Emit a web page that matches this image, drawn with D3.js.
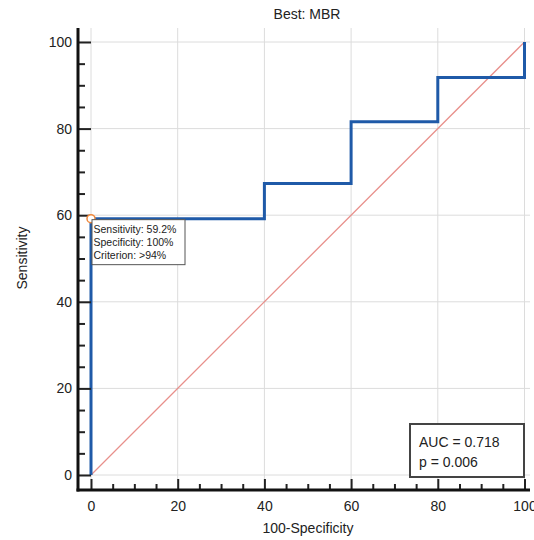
<!DOCTYPE html>
<meta charset="utf-8">
<script src="https://d3js.org/d3.v7.min.js"></script>
<style>
  body { margin: 0; background: #fff; }
  text { font-family: "Liberation Sans", Arial, sans-serif; }
</style>
<div id="chart"></div>
<script>
// ROC curve points (100-Specificity, Sensitivity)
const fpr = [0, 0, 40, 40, 60, 60, 80, 80, 100, 100];
const tpr = [0, 59.2, 59.2, 67.3, 67.3, 81.6, 81.6, 91.8, 91.8, 100];
const majorTicks = [0, 20, 40, 60, 80, 100];
const minorTicks = d3.range(0, 101, 5).filter(v => v % 20 !== 0);
const bestPoint = {x: 0, y: 59.2};
const tipLines = ["Sensitivity: 59.2%", "Specificity: 100%", "Criterion: >94%"];
const statLines = ["AUC = 0.718", "p = 0.006"];

const W = 534, H = 540;
const svg = d3.select("#chart").append("svg")
    .attr("width", W).attr("height", H);

const x = d3.scaleLinear().domain([0, 100]).range([91, 524.5]);
const y = d3.scaleLinear().domain([0, 100]).range([475, 42]);

const axisX = 78, axisY = 490;

// grid
svg.append("g").selectAll("line.v").data(majorTicks).join("line")
    .attr("x1", d => x(d)).attr("x2", d => x(d))
    .attr("y1", 28).attr("y2", axisY)
    .attr("stroke", "#dcdcdc").attr("stroke-width", 1);
svg.append("g").selectAll("line.h").data(majorTicks).join("line")
    .attr("x1", axisX).attr("x2", 530)
    .attr("y1", d => y(d)).attr("y2", d => y(d))
    .attr("stroke", "#dcdcdc").attr("stroke-width", 1);

// diagonal reference
svg.append("line")
    .attr("x1", x(0)).attr("y1", y(0)).attr("x2", x(100)).attr("y2", y(100))
    .attr("stroke", "#e8908c").attr("stroke-width", 1.3);

// ROC step line
const pts = fpr.map((v, i) => [v, tpr[i]]);
svg.append("path")
    .datum(pts)
    .attr("fill", "none")
    .attr("stroke", "#1f5aa8")
    .attr("stroke-width", 3)
    .attr("d", d3.line().x(d => x(d[0])).y(d => y(d[1])));

// axes: major + minor ticks pointing inwards
const yMajor = svg.append("g").attr("transform", `translate(${axisX},0)`)
    .call(d3.axisLeft(y).tickValues(majorTicks).tickSizeInner(-(x(0) - axisX)).tickSizeOuter(0).tickPadding(6));
const yMinor = svg.append("g").attr("transform", `translate(${axisX},0)`)
    .call(d3.axisLeft(y).tickValues(minorTicks).tickSizeInner(-7).tickSizeOuter(0).tickFormat(""));
const xMajor = svg.append("g").attr("transform", `translate(0,${axisY})`)
    .call(d3.axisBottom(x).tickValues(majorTicks).tickSizeInner(-11).tickSizeOuter(0).tickPadding(7));
const xMinor = svg.append("g").attr("transform", `translate(0,${axisY})`)
    .call(d3.axisBottom(x).tickValues(minorTicks).tickSizeInner(-6).tickSizeOuter(0).tickFormat(""));

[yMajor, yMinor, xMajor, xMinor].forEach(g => {
  g.select(".domain").remove();
  g.selectAll(".tick line").attr("stroke", "#222").attr("stroke-width", 2);
  g.selectAll(".tick text").attr("fill", "#222").style("font-size", "14px");
});
xMajor.selectAll(".tick text").attr("dy", "1em").attr("y", 7);

// axis lines
svg.append("line").attr("x1", axisX).attr("x2", axisX).attr("y1", 28).attr("y2", axisY + 1.5)
    .attr("stroke", "#111").attr("stroke-width", 3);
svg.append("line").attr("x1", axisX - 1.5).attr("x2", 530).attr("y1", axisY).attr("y2", axisY)
    .attr("stroke", "#111").attr("stroke-width", 3);

// titles
svg.append("text").attr("x", 307).attr("y", 19).attr("text-anchor", "middle")
    .style("font-size", "14px").attr("fill", "#222").text("Best: MBR");
svg.append("text").attr("x", 308).attr("y", 533).attr("text-anchor", "middle")
    .style("font-size", "14px").attr("fill", "#222").text("100-Specificity");
svg.append("text").attr("transform", `translate(27,258) rotate(-90)`).attr("text-anchor", "middle")
    .style("font-size", "14px").attr("fill", "#222").text("Sensitivity");

// best point marker
svg.append("circle").attr("cx", x(bestPoint.x)).attr("cy", y(bestPoint.y)).attr("r", 4)
    .attr("fill", "#fff").attr("stroke", "#f0883c").attr("stroke-width", 1.5);

// tooltip box
const tip = svg.append("g").attr("transform", `translate(${x(bestPoint.x) + 1},${y(bestPoint.y) + 1})`);
tip.append("rect").attr("width", 93).attr("height", 45)
    .attr("fill", "#fff").attr("stroke", "#555").attr("stroke-width", 1);
tip.selectAll("text").data(tipLines).join("text")
    .attr("x", 1.5).attr("y", (d, i) => 13 + i * 13)
    .style("font-size", "10.5px").attr("fill", "#222").text(d => d);

// AUC box
const stat = svg.append("g").attr("transform", "translate(410,424)");
stat.append("rect").attr("width", 114).attr("height", 53)
    .attr("fill", "#fff").attr("stroke", "#444").attr("stroke-width", 2);
stat.selectAll("text").data(statLines).join("text")
    .attr("x", 9).attr("y", (d, i) => 23 + i * 20)
    .style("font-size", "14px").attr("fill", "#222").text(d => d);
</script>
